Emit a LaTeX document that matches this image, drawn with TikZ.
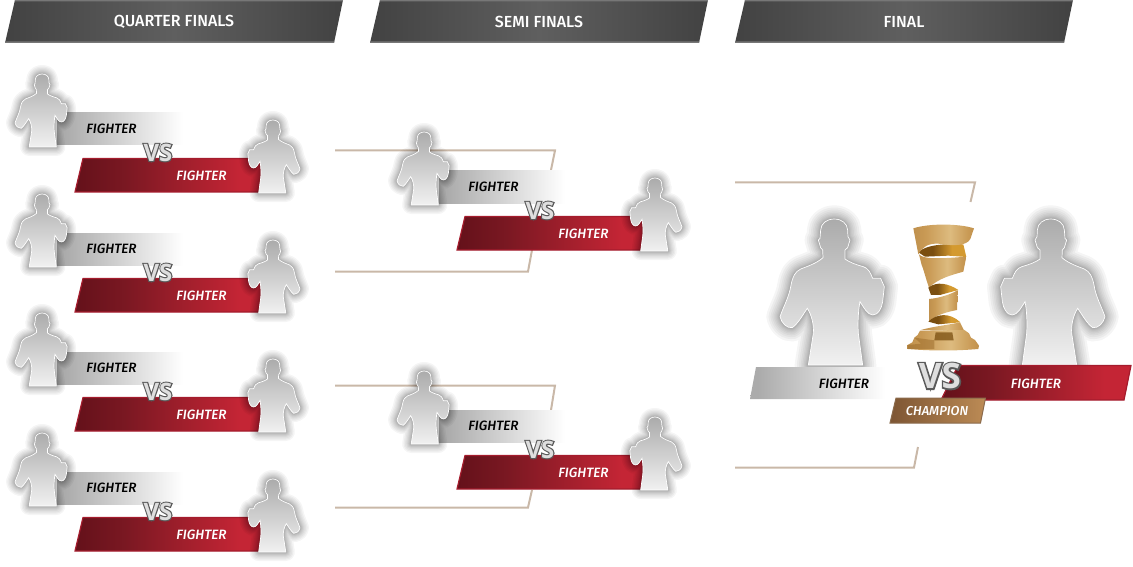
\documentclass[tikz,border=0pt]{standalone}
\usepackage{fontspec}
\setmainfont{Fira Sans Medium}[ItalicFont={Fira Sans Medium Italic}]
\newfontfamily\vsback[BoldFeatures={FakeBold=9}]{Open Sans}
\newfontfamily\vsface{Open Sans}
\definecolor{hdA}{HTML}{424242}\definecolor{hdB}{HTML}{5F5F5F}
\definecolor{rdA}{HTML}{64111A}\definecolor{rdM}{HTML}{7A1822}\definecolor{rdB}{HTML}{C42535}
\definecolor{gyA}{HTML}{ABABAB}\definecolor{gyB}{HTML}{FFFFFF}
\definecolor{brA}{HTML}{7D5533}\definecolor{brB}{HTML}{BC8B55}\definecolor{brownEdge}{HTML}{8A6A4C}
\definecolor{gdA}{HTML}{A87A3A}\definecolor{gdB}{HTML}{C99A55}\definecolor{gdC}{HTML}{DDBB7F}\definecolor{gdD}{HTML}{9A6A2A}
\definecolor{gdK}{HTML}{7A4E10}\definecolor{gdL}{HTML}{D49A30}
\definecolor{lineC}{HTML}{C9B8A8}
\definecolor{rdBorder}{HTML}{A51C2D}
\definecolor{fgTop}{HTML}{ABABAB}\definecolor{fgBot}{HTML}{F1F1F1}
\definecolor{vsShade}{HTML}{5A5A5A}\definecolor{vsFace}{HTML}{DEDEDE}
\pgfdeclarehorizontalshading{hdr}{100bp}{color(0bp)=(hdA);color(25bp)=(hdA);color(50bp)=(hdB);color(75bp)=(hdA);color(100bp)=(hdA)}
\pgfdeclarehorizontalshading{redbar}{100bp}{color(0bp)=(rdA);color(25bp)=(rdA);color(38bp)=(rdM);color(68bp)=(rdB);color(100bp)=(rdB)}
\pgfdeclarehorizontalshading{greybar}{100bp}{color(0bp)=(gyA);color(28bp)=(gyA);color(75bp)=(gyB);color(100bp)=(gyB)}
\pgfdeclarehorizontalshading{brownbar}{100bp}{color(0bp)=(brA);color(25bp)=(brA);color(75bp)=(brB);color(100bp)=(brB)}
\pgfdeclarehorizontalshading{goldA}{100bp}{color(0bp)=(gdA);color(35bp)=(gdB);color(55bp)=(gdC);color(70bp)=(gdB);color(100bp)=(gdD)}
\pgfdeclarehorizontalshading{goldB}{100bp}{color(0bp)=(gdK);color(40bp)=(gdK);color(60bp)=(gdL);color(100bp)=(gdL)}
\tikzset{
  headerbar/.style={shade,shading=hdr,draw=none},
  headertext/.style={text=white,font=\fontsize{16}{16}\selectfont},
  fightertext/.style={font=\fontsize{13.5}{14}\selectfont\itshape},
  blackname/.style={fightertext,text=black},
  whitename/.style={fightertext,text=white},
  redband/.style={shade,shading=redbar,draw=rdBorder,line width=1.2pt},
  greyband/.style={shade,shading=greybar,draw=none},
  connector/.style={draw=lineC,line width=2pt,line join=miter},
  gold/.style={shade,shading=goldA,draw=none},
  golddark/.style={shade,shading=goldB,draw=none},
}
% silhouette, in units measured on the large fighter, origin on the base line
\def\fighteroutline{(313,-438) .. controls (290,-438) and (273,-425) .. (272,-405) -- (270,-380) -- (265,-375) -- (272,-352) -- (278,-345) -- (279,-322) .. controls (260,-305) and (230,-295) .. (212,-288) .. controls (195,-280) and (188,-265) .. (183,-240) .. controls (178,-205) and (160,-175) .. (150,-145) .. controls (155,-125) and (170,-110) .. (187,-112) .. controls (205,-125) and (218,-150) .. (232,-170) .. controls (245,-150) and (252,-120) .. (250,-95) -- (235,0) -- (398,0) -- (385,-95) .. controls (383,-130) and (385,-165) .. (390,-190) .. controls (400,-175) and (412,-150) .. (428,-150) .. controls (445,-150) and (455,-170) .. (458,-190) -- (463,-235) -- (452,-260) -- (428,-260) .. controls (420,-280) and (415,-290) .. (400,-295) .. controls (380,-300) and (355,-310) .. (345,-318) -- (345,-345) -- (353,-352) -- (360,-375) -- (354,-385) -- (353,-405) .. controls (352,-425) and (335,-438) .. (313,-438) -- cycle}
% #1 x of origin, #2 y of base line, #3 x scale, #4 scale, #5 glow factor
\newcommand{\fighterfig}[5]{%
  \begin{scope}[shift={(#1,#2)},xscale=#3*#4,yscale=#4]
    \foreach \w in {12,11,...,1}{\draw[black,opacity=0.04,line width={\w*\w*#5},line join=round] \fighteroutline;}
    \shade[top color=fgTop,bottom color=fgBot,draw=white,line width=0.7pt] \fighteroutline;
  \end{scope}}
% one match block, #1 x shift, #2 y shift, #3 id
\newcommand{\matchblock}[3]{%
  \begin{scope}[shift={(#1,#2)}]
    \path[greyband] (57,113) -- (183,113) -- (183,145) -- (57,145) -- cycle;
    \fighterfig{-10}{147}{1}{0.1667}{0.125pt}
    \path[redband] (83,158.5) -- (266,158.5) -- (259,192) -- (75,192) -- cycle;
    \fighterfig{325}{193}{-1}{0.1667}{0.125pt}
    \node[blackname] (g#3) at (111.5,129.2) {FIGHTER};
    \node[whitename] (r#3) at (201.5,176.2) {FIGHTER};
    \node[text=vsShade,font=\fontsize{24}{24}\selectfont\vsback\bfseries] (vd#3) at (158,152.5) {VS};
    \node[text=vsFace,font=\fontsize{24}{24}\selectfont\vsface\bfseries] (v#3) at (158,152.5) {VS};
  \end{scope}}
\begin{document}
\begin{tikzpicture}[x=1pt,y=-1pt]
\useasboundingbox (0,0) rectangle (1133,567);
% headers
\foreach \dx/\lab/\id in {0/QUARTER FINALS/qf,365/SEMI FINALS/sf,730/FINAL/fi}{
  \begin{scope}[shift={(\dx,0)}]
    \path[headerbar] (15,0) -- (343,0) -- (334,43) -- (5,43) -- cycle;
    \fill[hdB!85!white] (15,0) -- (343,0) -- (342.7,1.5) -- (14.7,1.5) -- cycle;
    \fill[hdB!85!white] (5.4,41.4) -- (334.3,41.4) -- (334,43) -- (5,43) -- cycle;
    \node[headertext] (h\id) at (174,22) {\lab};
  \end{scope}}
% bracket coordinates
\coordinate (a1) at (335,150.5); \coordinate (a2) at (555,150.5); \coordinate (a3) at (551,170);
\coordinate (b1) at (335,271.5); \coordinate (b2) at (528,271.5); \coordinate (b3) at (532,250);
\coordinate (c1) at (335,385.5); \coordinate (c2) at (555,385.5); \coordinate (c3) at (551,410);
\coordinate (d1) at (335,507.5); \coordinate (d2) at (528,507.5); \coordinate (d3) at (532,490);
\coordinate (e1) at (735,182.5); \coordinate (e2) at (975,182.5); \coordinate (e3) at (970.5,202);
\coordinate (f1) at (735,467.5); \coordinate (f2) at (914,467.5); \coordinate (f3) at (918,447);
\draw[connector] (a1) -- (a2) -- (a3);
\draw[connector] (b1) -- (b2) -- (b3);
\draw[connector] (c1) -- (c2) -- (c3);
\draw[connector] (d1) -- (d2) -- (d3);
\draw[connector] (e1) -- (e2) -- (e3);
\draw[connector] (f1) -- (f2) -- (f3);
% quarter finals
\matchblock{0}{0}{qa}
\matchblock{0}{120}{qb}
\matchblock{0}{239}{qc}
\matchblock{0}{359}{qd}
% semi finals
\matchblock{382}{58}{sa}
\matchblock{382}{297}{sb}
% final: large fighters
\fighterfig{730}{365}{1}{0.3333}{0.19pt}
\fighterfig{1155}{365}{-1}{0.3333}{0.19pt}
% trophy
\begin{scope}[shift={(895,215)},scale=0.3333]
  \path[golddark] (70,112) .. controls (90,90) and (150,85) .. (205,88) -- (214,126) -- (160,122) -- (90,125) -- cycle;
  \path[gold] (55,40) .. controls (100,25) and (190,25) .. (237,40) -- (226,72) .. controls (215,92) and (180,94) .. (130,86) .. controls (100,85) and (82,95) .. (70,118) -- cycle;
  \path[gold] (72,118) .. controls (85,135) and (150,130) .. (214,125) -- (205,170) .. controls (170,180) and (130,190) .. (102,218) .. controls (92,190) and (85,160) .. (80,150) -- cycle;
  \path[golddark] (100,218) .. controls (125,198) and (160,205) .. (190,225) -- (135,240) -- (108,240) -- cycle;
  \path[gold] (102,252) .. controls (130,250) and (170,238) .. (188,225) -- (186,285) .. controls (160,290) and (120,300) .. (102,320) -- cycle;
  \path[golddark] (100,320) .. controls (125,295) and (165,292) .. (196,322) -- (130,328) -- cycle;
  \path[gold] (78,345) .. controls (110,335) and (160,330) .. (195,322) -- (208,348) -- cycle;
  \path[gold] (75,347) -- (208,345) -- (222,355) -- (228,368) -- (240,375) -- (252,392) -- (250,402) .. controls (180,408) and (110,408) .. (38,402) -- (38,390) -- (52,382) -- (58,368) -- (68,360) -- cycle;
  \path[fill=gdK,opacity=.75] (122,352) -- (172,352) -- (176,376) -- (118,376) -- cycle;
  \path[fill=gdD,opacity=.5] (58,368) -- (118,376) -- (118,402) -- (38,402) -- (38,390) -- (78,386) -- cycle;
\end{scope}
% final banners
\path[greyband] (756,367) -- (885,367) -- (885,399) -- (750,399) -- cycle;
\path[redband] (958,365.5) -- (1131,365.5) -- (1124,400) -- (941,400) -- cycle;
\node[blackname] (gf) at (844,384.2) {FIGHTER};
\node[whitename] (rf) at (1036,384.2) {FIGHTER};
\path[shade,shading=brownbar,draw=brownEdge,line width=1pt] (896,398) -- (985.5,398) -- (980.5,423) -- (890,423) -- cycle;
\node[text=white,font=\fontsize{13}{13}\selectfont\itshape] (cf) at (937,411) {CHAMPION};
\node[text=vsShade,font=\fontsize{35}{35}\selectfont\vsback\bfseries] (vdf) at (940,376) {VS};
\node[text=vsFace,font=\fontsize{35}{35}\selectfont\vsface\bfseries] (vf) at (940,376) {VS};
\end{tikzpicture}
\end{document}
